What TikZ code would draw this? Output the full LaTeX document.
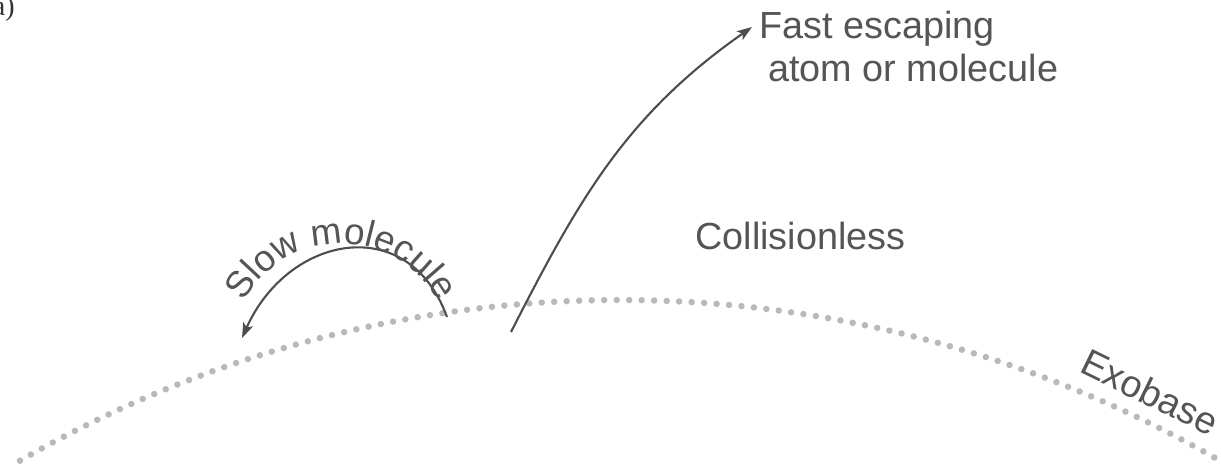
\documentclass[tikz,border=0pt]{standalone}
\usepackage{fontspec}
\setmainfont{Liberation Sans}
\newfontfamily\tagfont{Liberation Serif}
\usetikzlibrary{arrows.meta,decorations.text}
\definecolor{inkgray}{HTML}{555555}
\definecolor{dotgray}{HTML}{B9B9B9}
\definecolor{arrowgray}{HTML}{4D4D4D}
\tikzset{
  lbl/.style={font=\fontsize{21.5}{24.4}\selectfont, text=inkgray, inner sep=0pt},
  arr/.style={-{Stealth[length=3mm,width=2.1mm,inset=0.7mm]}, line width=1.2pt, draw=arrowgray},
  exobase/.style={draw=dotgray, line width=0.13cm, line cap=round, dash pattern=on 0pt off 0.25cm},
}
\begin{document}
\begin{tikzpicture}
  \useasboundingbox (0,0) rectangle (24.42,9.34);
  % exobase
  \draw[exobase] (0.4,0.125) arc[start angle=120, end angle=60, radius=24];
  \node[lbl, rotate=-26] (exo) at (23.0,1.5) {Exobase};
  \node[lbl, anchor=base west] (coll) at (13.9,4.36) {Collisionless};
  \node[lbl, anchor=base west, align=left] (fast) at (15.18,7.72) {Fast escaping\\\hspace*{0.18cm}atom or molecule};
  \node[font=\tagfont\fontsize{16}{18}\selectfont, anchor=base east, inner sep=0pt, text=black!80] (tag) at (0.3,9.04) {a)};
  % arrows
  \coordinate (slowstart) at (8.94,3.0);
  \coordinate (slowend) at (4.84,2.58);
  \coordinate (faststart) at (10.22,2.7);
  \coordinate (fasttip) at (15.04,8.8);
  \draw[arr] (slowstart) to[out=110,in=66,looseness=1.4] (slowend);
  \draw[arr] (faststart) to[out=63,in=215] (fasttip);
  \path[decorate, decoration={text along path, text align=center, text color=inkgray,
    text={|\fontsize{21}{24}\selectfont|Slow molecule}}]
    (6.82,2.27) ++(160:2.2) arc[start angle=160, end angle=20, radius=2.2];
\end{tikzpicture}
\end{document}
